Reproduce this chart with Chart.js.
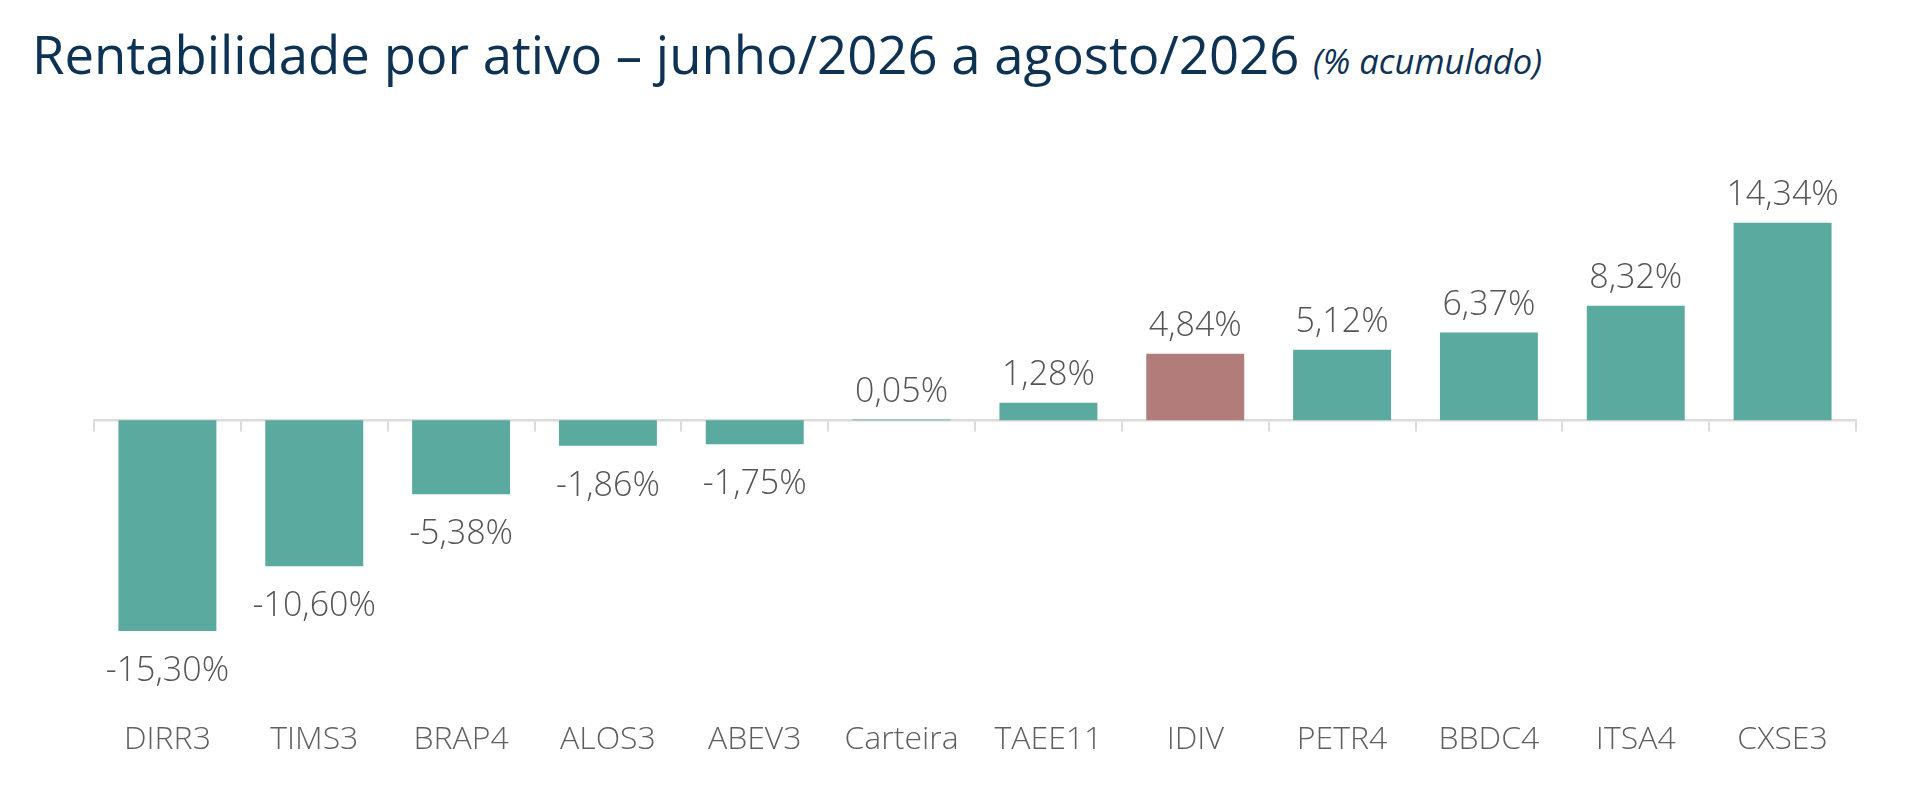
<!DOCTYPE html>
<html>
<head>
<meta charset="utf-8">
<script src="https://cdn.jsdelivr.net/npm/chart.js@4"></script>
<style>
  html, body { margin: 0; padding: 0; background: #ffffff; }
  body { width: 1920px; height: 788px; position: relative; overflow: hidden; font-family: "Open Sans", sans-serif; }
  #title { position: absolute; left: 32px; top: 27px; line-height: 53px; font-size: 52.7px; color: #0e3253; white-space: nowrap; }
  #title em { font-size: 34.6px; font-style: italic; }
  #wrap { position: absolute; left: 0; top: 0; width: 1920px; height: 788px; }
</style>
</head>
<body>
<div id="title">Rentabilidade por ativo – junho/2026 a agosto/2026 <em>(% acumulado)</em></div>
<div id="wrap"><canvas id="retChart"></canvas></div>
<script>
// Dados
const ativos = ['DIRR3', 'TIMS3', 'BRAP4', 'ALOS3', 'ABEV3', 'Carteira', 'TAEE11', 'IDIV', 'PETR4', 'BBDC4', 'ITSA4', 'CXSE3'];
const rentabilidade = [-15.30, -10.60, -5.38, -1.86, -1.75, 0.05, 1.28, 4.84, 5.12, 6.37, 8.32, 14.34];
const benchmark = 'IDIV';

const corAtivo = '#5aaa9f';
const corBenchmark = '#b27c7b';

const fmtPct = v => (v < 0 ? '-' : '') + Math.abs(v).toFixed(2).replace('.', ',') + '%';

// Rótulos de valor acima / abaixo das barras
const valueLabels = {
    id: 'valueLabels',
    afterDatasetsDraw(chart) {
        const ctx = chart.ctx;
        const meta = chart.getDatasetMeta(0);
        ctx.save();
        ctx.font = '300 34px "Open Sans", sans-serif';
        ctx.fillStyle = '#555555';
        ctx.textAlign = 'center';
        ctx.textBaseline = 'alphabetic';
        meta.data.forEach((bar, i) => {
            const v = rentabilidade[i];
            const y = v >= 0 ? bar.y - 18 : bar.y + 50;
            ctx.fillText(fmtPct(v), bar.x, y);
        });
        ctx.restore();
    }
};

new Chart(document.getElementById('retChart').getContext('2d'), {
    type: 'bar',
    data: {
        labels: ativos,
        datasets: [{
            data: rentabilidade,
            backgroundColor: ativos.map(a => a === benchmark ? corBenchmark : corAtivo),
            borderWidth: 0,
            barPercentage: 0.667,
            categoryPercentage: 1.0
        }]
    },
    options: {
        responsive: true,
        maintainAspectRatio: false,
        animation: false,
        layout: { padding: { left: 94, right: 64, top: 200, bottom: 4 } },
        plugins: { legend: { display: false }, tooltip: { enabled: false }, title: { display: false } },
        scales: {
            y: { display: false, min: -20, max: 16 },
            x: {
                position: { y: 0 },
                offset: true,
                ticks: { display: false },
                border: { display: true, color: '#dcdcdc', width: 2.5 },
                grid: { display: true, drawOnChartArea: false, drawTicks: true, tickLength: 10, offset: true, color: '#dcdcdc', lineWidth: 2 }
            },
            x2: {
                type: 'category',
                position: 'bottom',
                offset: true,
                grid: { display: false, drawTicks: false },
                border: { display: false },
                ticks: { color: '#5f5f5f', padding: 25, font: { family: '"Open Sans", sans-serif', size: 32, weight: '300' } }
            }
        }
    },
    plugins: [valueLabels]
});
</script>
</body>
</html>
